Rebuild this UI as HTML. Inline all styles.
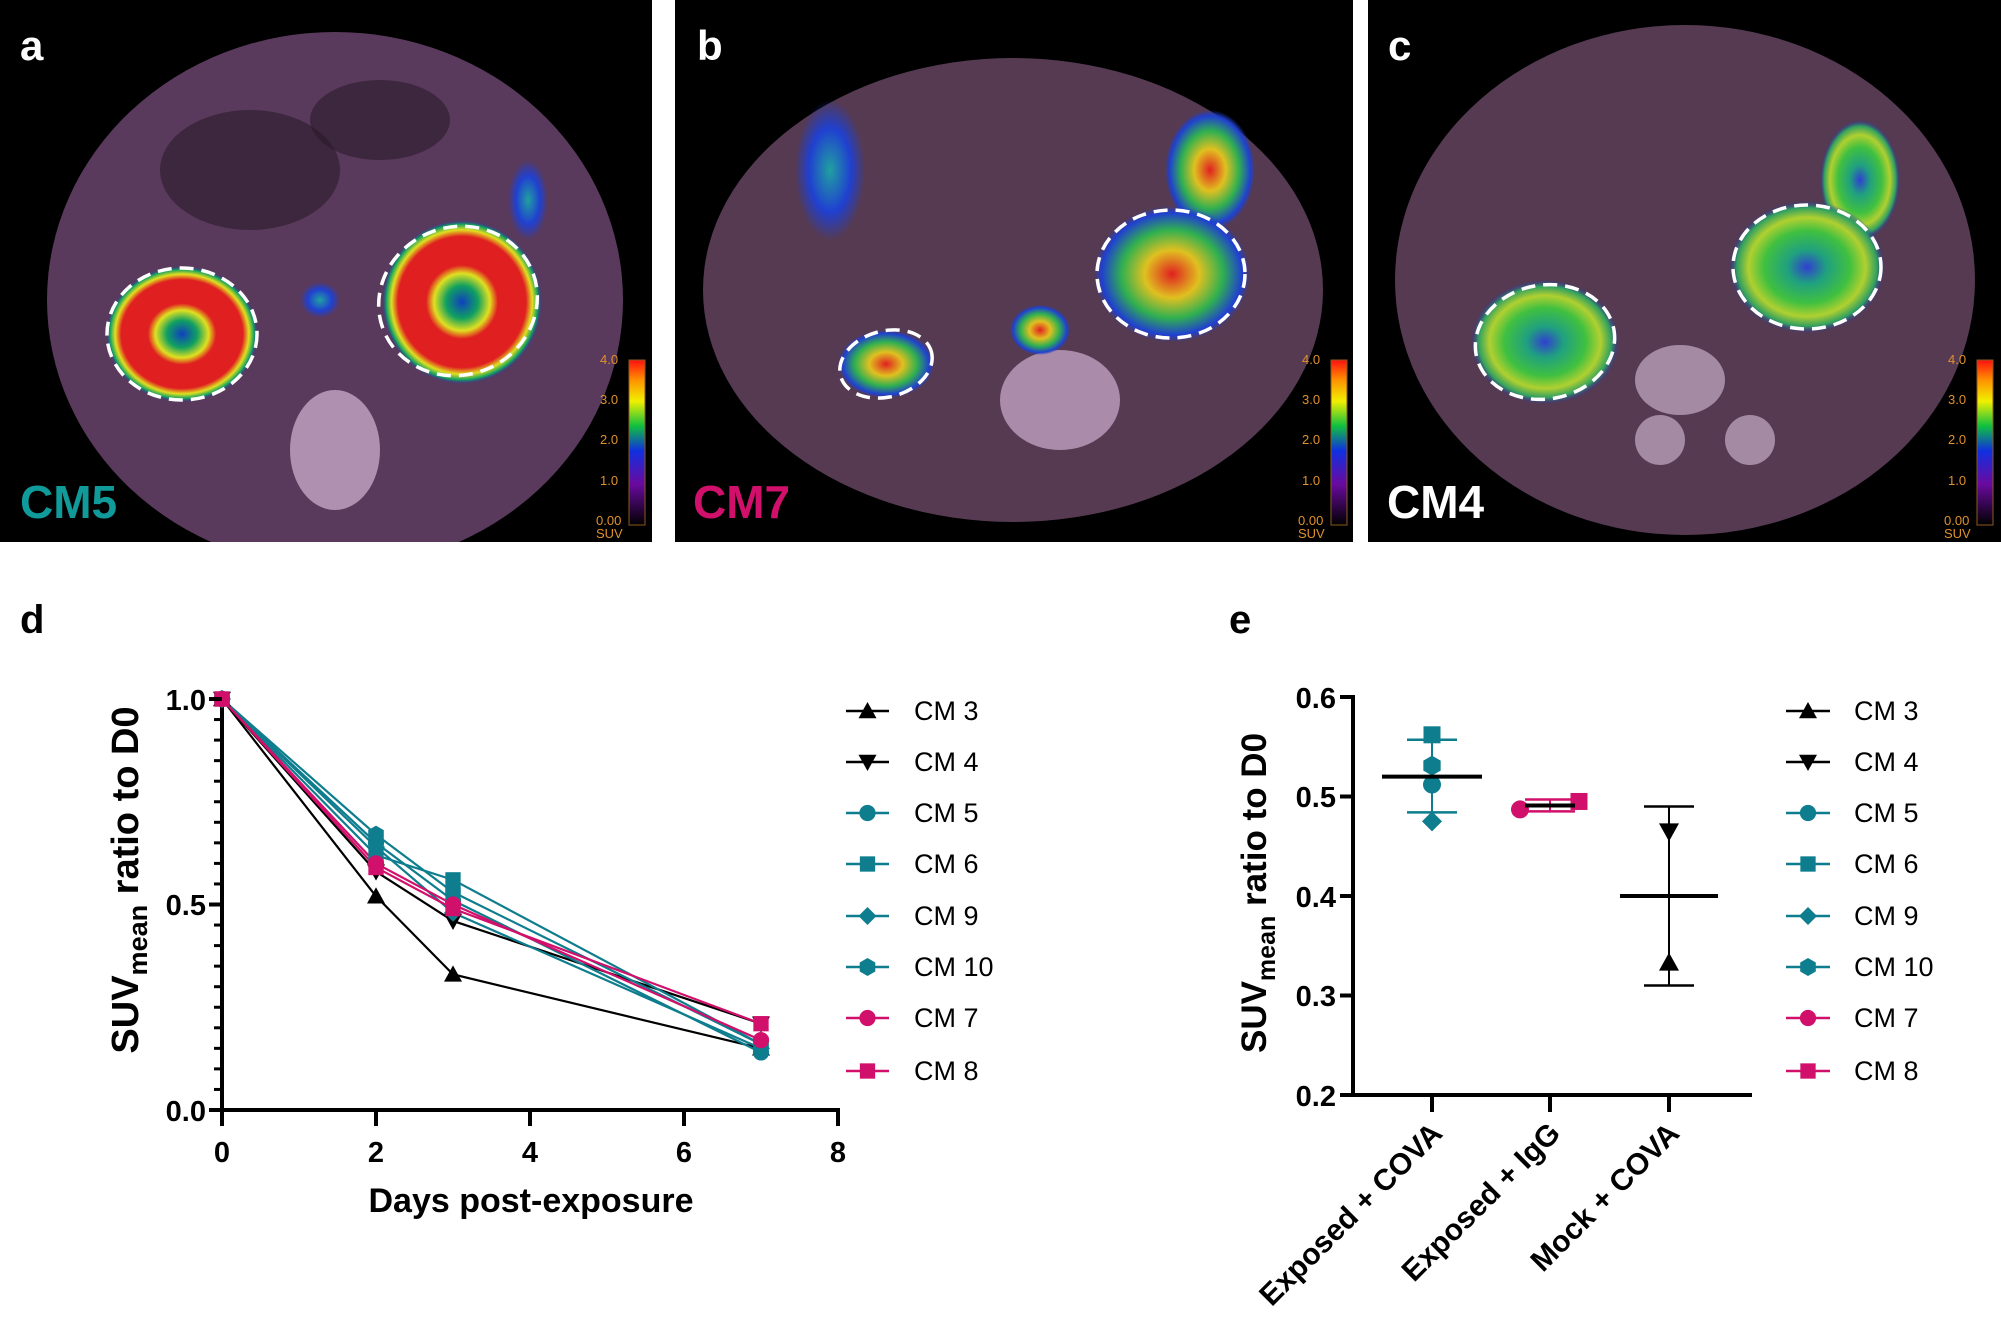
<!DOCTYPE html>
<html><head><meta charset="utf-8"><style>
html,body{margin:0;padding:0;background:#fff}
svg{display:block}
text{font-family:"Liberation Sans",sans-serif}
</style></head><body>
<svg id="s" width="2001" height="1321" viewBox="0 0 2001 1321" xmlns="http://www.w3.org/2000/svg">
<defs>
<clipPath id="ca"><rect x="0" y="0" width="652" height="542"/></clipPath>
<clipPath id="cbp"><rect x="675" y="0" width="678" height="542"/></clipPath>
<clipPath id="cc"><rect x="1368" y="0" width="633" height="542"/></clipPath>
<linearGradient id="cb" x1="0" y1="1" x2="0" y2="0">
<stop offset="0" stop-color="#000"/><stop offset="0.25" stop-color="#6a0aa0"/><stop offset="0.45" stop-color="#1030e0"/><stop offset="0.6" stop-color="#10c040"/><stop offset="0.75" stop-color="#f0f000"/><stop offset="0.88" stop-color="#ff9000"/><stop offset="1" stop-color="#ff1010"/>
</linearGradient>
<radialGradient id="ring"><stop offset="0" stop-color="#1040c0"/><stop offset="0.2" stop-color="#10a060"/><stop offset="0.35" stop-color="#e0e020"/><stop offset="0.45" stop-color="#e02020"/><stop offset="0.8" stop-color="#e02020"/><stop offset="0.88" stop-color="#e0e020"/><stop offset="0.95" stop-color="#10a060"/><stop offset="1" stop-color="#2030c0" stop-opacity="0"/></radialGradient>
<radialGradient id="gring"><stop offset="0" stop-color="#3040d0"/><stop offset="0.25" stop-color="#20a080"/><stop offset="0.55" stop-color="#40c040"/><stop offset="0.75" stop-color="#b0d030"/><stop offset="0.9" stop-color="#30a060"/><stop offset="1" stop-color="#2030c0" stop-opacity="0"/></radialGradient>
<radialGradient id="blob"><stop offset="0" stop-color="#e02020"/><stop offset="0.35" stop-color="#e0c020"/><stop offset="0.65" stop-color="#30b050"/><stop offset="0.9" stop-color="#2040d0"/><stop offset="1" stop-color="#2040d0" stop-opacity="0"/></radialGradient>
<radialGradient id="blue"><stop offset="0" stop-color="#20a0a0"/><stop offset="0.6" stop-color="#2040d0"/><stop offset="1" stop-color="#2040d0" stop-opacity="0"/></radialGradient>
</defs>
<!-- panel a -->
<rect x="0" y="0" width="652" height="542" fill="#000"/>
<g clip-path="url(#ca)">
<ellipse cx="335" cy="300" rx="288" ry="268" fill="#5a3a5c"/>
<ellipse cx="250" cy="170" rx="90" ry="60" fill="#2a1a2a" opacity="0.6"/>
<ellipse cx="380" cy="120" rx="70" ry="40" fill="#2a1a2a" opacity="0.6"/>
<ellipse cx="335" cy="450" rx="45" ry="60" fill="#b090b0"/>
<ellipse cx="528" cy="200" rx="20" ry="40" fill="url(#blue)"/>
<ellipse cx="320" cy="300" rx="20" ry="18" fill="url(#blue)"/>
<ellipse cx="182" cy="334" rx="76" ry="68" fill="url(#ring)"/>
<ellipse cx="462" cy="302" rx="80" ry="82" fill="url(#ring)"/>
<ellipse cx="182" cy="334" rx="75" ry="66" fill="none" stroke="#fff" stroke-width="3.5" stroke-dasharray="14 8"/>
<ellipse cx="458" cy="301" rx="80" ry="74" fill="none" stroke="#fff" stroke-width="3.5" stroke-dasharray="14 8" transform="rotate(-20 458 301)"/>
</g>
<text x="20" y="60" fill="#fff" font-size="42" font-weight="bold">a</text>
<text x="20" y="518" fill="#109a9a" font-size="46" font-weight="bold">CM5</text>
<!-- panel b -->
<rect x="675" y="0" width="678" height="542" fill="#000"/>
<g clip-path="url(#cbp)">
<ellipse cx="1013" cy="290" rx="310" ry="232" fill="#553a52"/>
<ellipse cx="1060" cy="400" rx="60" ry="50" fill="#c0a0c0" opacity="0.8"/>
<ellipse cx="1040" cy="330" rx="30" ry="25" fill="url(#blob)"/>
<ellipse cx="830" cy="170" rx="35" ry="70" fill="url(#blue)"/>
<ellipse cx="1210" cy="170" rx="45" ry="60" fill="url(#blob)"/>
<ellipse cx="886" cy="364" rx="48" ry="34" fill="url(#blob)"/>
<ellipse cx="1172" cy="274" rx="78" ry="68" fill="url(#blob)"/>
<ellipse cx="886" cy="364" rx="47" ry="33" fill="none" stroke="#fff" stroke-width="3.5" stroke-dasharray="14 8" transform="rotate(-15 886 364)"/>
<ellipse cx="1171" cy="274" rx="74" ry="64" fill="none" stroke="#fff" stroke-width="3.5" stroke-dasharray="14 8"/>
</g>
<text x="697" y="60" fill="#fff" font-size="42" font-weight="bold">b</text>
<text x="693" y="518" fill="#d0106a" font-size="46" font-weight="bold">CM7</text>
<!-- panel c -->
<rect x="1368" y="0" width="633" height="542" fill="#000"/>
<g clip-path="url(#cc)">
<ellipse cx="1685" cy="280" rx="290" ry="255" fill="#553a52"/>
<ellipse cx="1680" cy="380" rx="45" ry="35" fill="#b8a0b8" opacity="0.8"/>
<ellipse cx="1660" cy="440" rx="25" ry="25" fill="#b8a0b8" opacity="0.8"/>
<ellipse cx="1750" cy="440" rx="25" ry="25" fill="#b8a0b8" opacity="0.8"/>
<ellipse cx="1860" cy="180" rx="40" ry="60" fill="url(#gring)"/>
<ellipse cx="1545" cy="342" rx="74" ry="62" fill="url(#gring)"/>
<ellipse cx="1807" cy="267" rx="78" ry="66" fill="url(#gring)"/>
<ellipse cx="1545" cy="342" rx="70" ry="57" fill="none" stroke="#fff" stroke-width="3.5" stroke-dasharray="14 8" transform="rotate(-10 1545 342)"/>
<ellipse cx="1807" cy="267" rx="74" ry="62" fill="none" stroke="#fff" stroke-width="3.5" stroke-dasharray="14 8"/>
</g>
<text x="1388" y="60" fill="#fff" font-size="42" font-weight="bold">c</text>
<text x="1387" y="518" fill="#fff" font-size="46" font-weight="bold">CM4</text>
<!-- colorbars -->
<g font-size="13" fill="#e0902a">
<rect x="629" y="360" width="16" height="165" fill="url(#cb)" stroke="#8a5a20"/>
<text x="600" y="364">4.0</text><text x="600" y="404">3.0</text><text x="600" y="444">2.0</text><text x="600" y="485">1.0</text><text x="596" y="525">0.00</text><text x="596" y="538">SUV</text>
<rect x="1331" y="360" width="16" height="165" fill="url(#cb)" stroke="#8a5a20"/>
<text x="1302" y="364">4.0</text><text x="1302" y="404">3.0</text><text x="1302" y="444">2.0</text><text x="1302" y="485">1.0</text><text x="1298" y="525">0.00</text><text x="1298" y="538">SUV</text>
<rect x="1977" y="360" width="16" height="165" fill="url(#cb)" stroke="#8a5a20"/>
<text x="1948" y="364">4.0</text><text x="1948" y="404">3.0</text><text x="1948" y="444">2.0</text><text x="1948" y="485">1.0</text><text x="1944" y="525">0.00</text><text x="1944" y="538">SUV</text>
</g>
<!-- panel d -->
<text x="20" y="633" font-size="40" font-weight="bold">d</text>
<g stroke="#000" stroke-width="4" fill="none">
<line x1="222" y1="697" x2="222" y2="1112"/>
<line x1="220" y1="1110" x2="840" y2="1110"/>
</g>
<g font-size="29" font-weight="bold" text-anchor="end">
<text x="206" y="710">1.0</text><text x="206" y="915">0.5</text><text x="206" y="1121">0.0</text>
</g>
<g font-size="29" font-weight="bold" text-anchor="middle">
<text x="222" y="1162">0</text><text x="376" y="1162">2</text><text x="530" y="1162">4</text><text x="684" y="1162">6</text><text x="838" y="1162">8</text>
<text x="531" y="1212" font-size="34">Days post-exposure</text>
</g>
<text transform="translate(138 880) rotate(-90)" font-size="38" font-weight="bold" text-anchor="middle">SUV<tspan font-size="27" dy="9">mean</tspan><tspan dy="-9"> ratio to D0</tspan></text>
<!-- panel e -->
<text x="1229" y="633" font-size="40" font-weight="bold">e</text>
<g stroke="#000" stroke-width="4" fill="none">
<line x1="1353" y1="695" x2="1353" y2="1097"/>
<line x1="1351" y1="1095" x2="1752" y2="1095"/>
</g>
<g font-size="29" font-weight="bold" text-anchor="end">
<text x="1336" y="708">0.6</text><text x="1336" y="807">0.5</text><text x="1336" y="907">0.4</text><text x="1336" y="1006">0.3</text><text x="1336" y="1106">0.2</text>
</g>
<text transform="translate(1266 893) rotate(-90)" font-size="35" font-weight="bold" text-anchor="middle">SUV<tspan font-size="25" dy="9">mean</tspan><tspan dy="-9"> ratio to D0</tspan></text>
<g font-size="30" font-weight="bold" text-anchor="end">
<text transform="translate(1444 1135) rotate(-45)">Exposed + COVA</text>
<text transform="translate(1562 1135) rotate(-45)">Exposed + IgG</text>
<text transform="translate(1681 1135) rotate(-45)">Mock + COVA</text>
</g>
<!-- legends -->
<g font-size="27">
<text x="914" y="720">CM 3</text><text x="914" y="771">CM 4</text><text x="914" y="822">CM 5</text><text x="914" y="873">CM 6</text><text x="914" y="925">CM 9</text><text x="914" y="976">CM 10</text><text x="914" y="1027">CM 7</text><text x="914" y="1080">CM 8</text>
<text x="1854" y="720">CM 3</text><text x="1854" y="771">CM 4</text><text x="1854" y="822">CM 5</text><text x="1854" y="873">CM 6</text><text x="1854" y="925">CM 9</text><text x="1854" y="976">CM 10</text><text x="1854" y="1027">CM 7</text><text x="1854" y="1080">CM 8</text>
</g>
<g id="dyn"></g>
</svg>
<script>
var NS="http://www.w3.org/2000/svg",g=document.getElementById("dyn");
function el(t,a){var e=document.createElementNS(NS,t);for(var k in a)e.setAttribute(k,a[k]);g.appendChild(e);return e;}
function mk(type,x,y,c,r){r=r||9;
 if(type=="up")el("polygon",{points:(x)+","+(y-r)+" "+(x-r)+","+(y+r*0.8)+" "+(x+r)+","+(y+r*0.8),fill:c});
 else if(type=="down")el("polygon",{points:(x)+","+(y+r)+" "+(x-r)+","+(y-r*0.8)+" "+(x+r)+","+(y-r*0.8),fill:c});
 else if(type=="circ")el("circle",{cx:x,cy:y,r:r*0.9,fill:c});
 else if(type=="sq")el("rect",{x:x-r*0.85,y:y-r*0.85,width:r*1.7,height:r*1.7,fill:c});
 else if(type=="dia")el("polygon",{points:x+","+(y-r)+" "+(x+r)+","+y+" "+x+","+(y+r)+" "+(x-r)+","+y,fill:c});
 else if(type=="hex"){var p=[];for(var i=0;i<6;i++){var a=Math.PI/3*i+Math.PI/6;p.push((x+r*Math.cos(a))+","+(y+r*Math.sin(a)));}el("polygon",{points:p.join(" "),fill:c});}
}
var K="#000",T="#0e7d8e",M="#d0106a";
var S=[["up",K,[1,.52,.33,.15]],["down",K,[1,.58,.46,.21]],["circ",T,[1,.65,.51,.14]],["sq",T,[1,.62,.56,.16]],["dia",T,[1,.64,.48,.15]],["hex",T,[1,.67,.53,.16]],["circ",M,[1,.60,.50,.17]],["sq",M,[1,.59,.49,.21]]];
var D=[0,2,3,7];
S.forEach(function(s){var pts=s[2].map(function(v,i){return [222+D[i]*77,1110-v*411];});
 el("polyline",{points:pts.map(function(p){return p.join(",")}).join(" "),fill:"none",stroke:s[1],"stroke-width":2.2});});
S.forEach(function(s){s[2].forEach(function(v,i){mk(s[0],222+D[i]*77,1110-v*411,s[1]);});});
var LY=[711,762,813,864,916,967,1018,1071];
S.forEach(function(s,i){[[846,889],[1786,1830]].forEach(function(L){
 el("line",{x1:L[0],y1:LY[i],x2:L[1],y2:LY[i],stroke:s[1],"stroke-width":2.5});mk(s[0],(L[0]+L[1])/2,LY[i],s[1]);});});
function ey(v){return 1095-(v-0.2)*995;}
function err(x,lo,hi,c,w){el("line",{x1:x,y1:ey(lo),x2:x,y2:ey(hi),stroke:c,"stroke-width":2});
 el("line",{x1:x-w,y1:ey(lo),x2:x+w,y2:ey(lo),stroke:c,"stroke-width":2.5});el("line",{x1:x-w,y1:ey(hi),x2:x+w,y2:ey(hi),stroke:c,"stroke-width":2.5});}
err(1432,.484,.557,T,25);
mk("sq",1432,ey(.562),T,10);mk("hex",1432,ey(.531),T,10);mk("circ",1432,ey(.512),T,10);mk("dia",1432,ey(.475),T,10);
el("line",{x1:1382,y1:ey(.52),x2:1482,y2:ey(.52),stroke:K,"stroke-width":4});
err(1550,.485,.497,M,25);
mk("circ",1520,ey(.487),M,10);mk("sq",1579,ey(.495),M,10);
el("line",{x1:1525,y1:ey(.491),x2:1575,y2:ey(.491),stroke:K,"stroke-width":4});
err(1669,.31,.49,K,25);
mk("down",1669,ey(.465),K,10);mk("up",1669,ey(.333),K,10);
el("line",{x1:1620,y1:ey(.4),x2:1718,y2:ey(.4),stroke:K,"stroke-width":4});
el("line",{x1:1432,y1:1095,x2:1432,y2:1112,stroke:K,"stroke-width":4});
el("line",{x1:1550,y1:1095,x2:1550,y2:1112,stroke:K,"stroke-width":4});
el("line",{x1:1669,y1:1095,x2:1669,y2:1112,stroke:K,"stroke-width":4});
[0.2,0.3,0.4,0.5,0.6].forEach(function(v){el("line",{x1:1340,y1:ey(v),x2:1353,y2:ey(v),stroke:K,"stroke-width":4});});
for(var i=0;i<=20;i++){var y=1110-i*0.05*411;el("line",{x1:i%10==0?209:214,y1:y,x2:222,y2:y,stroke:K,"stroke-width":i%10==0?4:3});}
for(var d=0;d<=8;d+=2){el("line",{x1:222+d*77,y1:1110,x2:222+d*77,y2:1126,stroke:K,"stroke-width":4});}
</script>
</body></html>
